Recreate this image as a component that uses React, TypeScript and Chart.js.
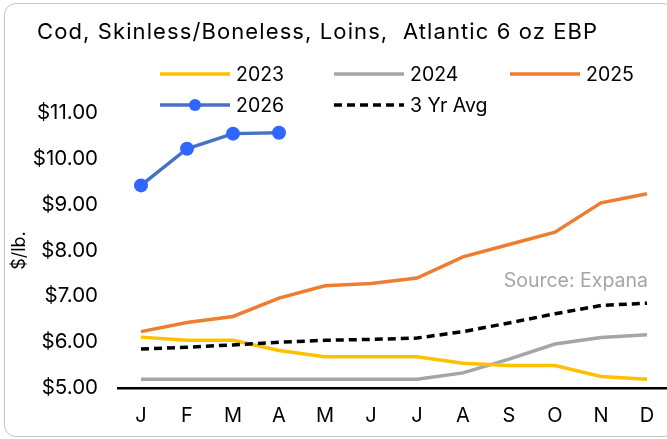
import React, { useEffect, useRef } from "react";
import { Chart, registerables } from "chart.js";

Chart.register(...registerables);

const months = ["J", "F", "M", "A", "M", "J", "J", "A", "S", "O", "N", "D"];
const y2023 = [6.11, 6.04, 6.04, 5.82, 5.68, 5.68, 5.68, 5.54, 5.49, 5.49, 5.25, 5.19];
const y2024 = [5.19, 5.19, 5.19, 5.19, 5.19, 5.19, 5.19, 5.33, 5.63, 5.96, 6.1, 6.16];
const y2025 = [6.23, 6.43, 6.56, 6.96, 7.23, 7.28, 7.4, 7.86, 8.13, 8.4, 9.04, 9.24];
const y2026 = [9.42, 10.22, 10.55, 10.57, null, null, null, null, null, null, null, null];
const avg3 = [5.85, 5.89, 5.94, 6.0, 6.04, 6.06, 6.09, 6.23, 6.42, 6.62, 6.8, 6.85];

const titleText = "Cod, Skinless/Boneless, Loins,  Atlantic 6 oz EBP";
const sourceText = "Source: Expana";
const yTitle = "$/lb.";

const FONT = "Inter, 'Noto Sans', sans-serif";

const C2023 = "#FFC000";
const C2024 = "#A5A5A5";
const C2025 = "#ED7D31";
const C2026 = "#4472C4";
const C2026P = "#2F66FF";

const legendItems = [
  { label: "2023", color: C2023, col: 0, row: 0, dash: false, dot: false },
  { label: "2024", color: C2024, col: 1, row: 0, dash: false, dot: false },
  { label: "2025", color: C2025, col: 2, row: 0, dash: false, dot: false },
  { label: "2026", color: C2026, col: 0, row: 1, dash: false, dot: true },
  { label: "3 Yr Avg", color: "#000000", col: 1, row: 1, dash: true, dot: false },
];

const decorPlugin = {
  id: "decor",
  afterDraw(chart: any) {
    const ctx = chart.ctx;
    ctx.save();
    // title
    ctx.fillStyle = "#000";
    ctx.font = `22px ${FONT}`;
    ctx.textAlign = "left";
    ctx.textBaseline = "alphabetic";
    try {
      (ctx as any).letterSpacing = "1.1px";
    } catch (e) {}
    ctx.fillText(titleText, 37, 38.5);
    try {
      (ctx as any).letterSpacing = "0px";
    } catch (e) {}
    // legend
    const colX = [160, 334, 510];
    const rowY = [74, 105];
    ctx.font = `19.5px ${FONT}`;
    legendItems.forEach((it) => {
      const x = colX[it.col];
      const y = rowY[it.row];
      ctx.strokeStyle = it.color;
      ctx.lineWidth = 3.5;
      ctx.setLineDash(it.dash ? [8, 5] : []);
      ctx.lineCap = "butt";
      ctx.beginPath();
      ctx.moveTo(x, y);
      ctx.lineTo(x + 70, y);
      ctx.stroke();
      ctx.setLineDash([]);
      if (it.dot) {
        ctx.fillStyle = C2026P;
        ctx.beginPath();
        ctx.arc(x + 35, y, 6, 0, Math.PI * 2);
        ctx.fill();
      }
      ctx.fillStyle = "#000";
      ctx.textBaseline = "middle";
      ctx.fillText(it.label, x + 76, y + 1);
    });
    // source
    ctx.fillStyle = "#A6A6A6";
    ctx.font = `19.5px ${FONT}`;
    ctx.textAlign = "right";
    ctx.textBaseline = "middle";
    ctx.fillText(sourceText, 648, 281);
    ctx.restore();
  },
};

export default function App() {
  const ref = useRef<HTMLCanvasElement>(null);
  useEffect(() => {
    if (!ref.current) return;
    const chart = new Chart(ref.current, {
      type: "line",
      data: {
        labels: months,
        datasets: [
          { label: "2023", data: y2023, borderColor: C2023, borderWidth: 3.5, pointRadius: 0, tension: 0, order: 4 },
          { label: "2024", data: y2024, borderColor: C2024, borderWidth: 3.5, pointRadius: 0, tension: 0, order: 5 },
          { label: "2025", data: y2025, borderColor: C2025, borderWidth: 3.5, pointRadius: 0, tension: 0, order: 3 },
          {
            label: "2026",
            data: y2026,
            borderColor: C2026,
            borderWidth: 3.5,
            pointRadius: 7,
            pointBackgroundColor: C2026P,
            pointBorderColor: C2026P,
            pointBorderWidth: 0,
            tension: 0,
            order: 1,
          },
          {
            label: "3 Yr Avg",
            data: avg3,
            borderColor: "#000000",
            borderWidth: 3.5,
            borderDash: [8, 5],
            pointRadius: 0,
            tension: 0,
            order: 2,
          },
        ],
      },
      options: {
        animation: false,
        responsive: false,
        devicePixelRatio: 1,
        layout: { padding: { top: 113, right: 10, left: 0, bottom: 0 } },
        plugins: {
          legend: { display: false },
          title: { display: false },
          tooltip: { enabled: false },
        },
        scales: {
          x: {
            offset: true,
            grid: { display: false, drawTicks: false, offset: true },
            border: { display: true, color: "#000", width: 2.5 },
            ticks: { color: "#000", font: { family: FONT, size: 20 }, padding: 16, maxRotation: 0, autoSkip: false },
            afterFit: (s: any) => {
              s.height = 439 - 388;
            },
          },
          y: {
            min: 5,
            max: 11,
            grid: { display: false, drawTicks: false },
            border: { display: false },
            ticks: {
              stepSize: 1,
              color: "#000",
              padding: 20,
              font: { family: FONT, size: 20.5 },
              callback: (v: any) => "$" + Number(v).toFixed(2),
            },
            title: {
              display: true,
              text: yTitle,
              color: "#000",
              font: { family: FONT, size: 18 },
              padding: { top: 9, bottom: 0 },
            },
            afterFit: (s: any) => {
              s.width = 118;
            },
          },
        },
      },
      plugins: [decorPlugin],
    });
    return () => chart.destroy();
  }, []);

  return (
    <div
      style={{
        position: "absolute",
        left: 0,
        top: 0,
        width: 667,
        height: 439,
        overflow: "hidden",
        background: "#fff",
      }}
    >
      <div
        style={{
          position: "absolute",
          left: 4,
          top: 3,
          width: 671,
          height: 434,
          border: "1.5px solid #C4C4C4",
          borderRadius: 12,
          boxSizing: "border-box",
        }}
      />
      <canvas ref={ref} width={680} height={439} style={{ position: "absolute", left: 0, top: 0, width: 680, height: 439 }} />
    </div>
  );
}
